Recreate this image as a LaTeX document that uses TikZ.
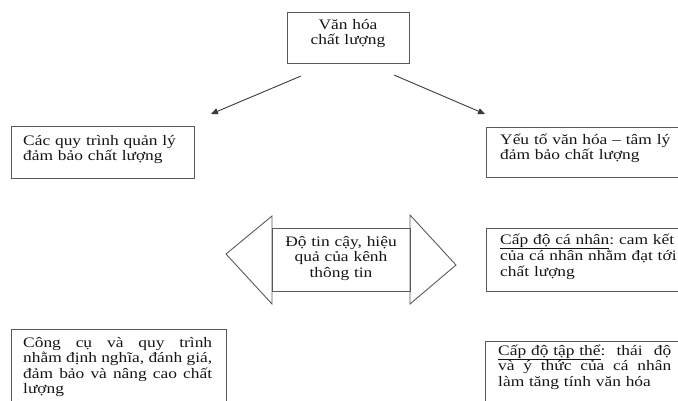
\documentclass[tikz,border=0pt]{standalone}
\usepackage{fontspec}
\setmainfont{Liberation Serif}[FakeStretch=1.2]
\usetikzlibrary{arrows.meta}
\definecolor{edge}{HTML}{5A5A5A}
\definecolor{lin}{HTML}{3A3A3A}
\definecolor{ink}{HTML}{151515}
\newcommand{\myjust}[2]{\leavevmode\hbox to #1{#2}}
\newcommand{\jsp}{\hskip 0.2em plus 1fill\relax}
\frenchspacing
\tikzset{
  boxshape/.style={draw=edge, line width=0.9pt, rectangle, inner sep=0pt},
  txt/.style={inner sep=0pt, text=ink, font=\fontsize{14.5}{15.5}\selectfont\frenchspacing},
  lefttxt/.style={txt, anchor=base west, align=left, text width=210pt},
  ctrtxt/.style={txt, anchor=base, align=center, text width=130pt},
  conn/.style={draw=lin, line width=0.9pt, -{Triangle[length=7pt,width=6pt]}},
}
\begin{document}
\begin{tikzpicture}[x=1pt,y=-1pt]
\useasboundingbox (0,0) rectangle (678,400);
% boxes
\node[boxshape, minimum width=122pt, minimum height=51pt] (top) at (348,37.5) {};
\node[boxshape, minimum width=183pt, minimum height=52pt] (l1) at (102.5,152) {};
\node[boxshape, minimum width=204pt, minimum height=50pt] (r1) at (588,152) {};
\node[boxshape, minimum width=204pt, minimum height=63pt] (r2) at (588,259.5) {};
\node[boxshape, minimum width=215pt, minimum height=81pt] (bl) at (118.5,369.5) {};
\node[boxshape, minimum width=205pt, minimum height=69pt] (br) at (587.5,375.5) {};
% double arrow
\node[boxshape, minimum width=138pt, minimum height=63pt] (dbl) at (341,259.5) {};
\coordinate (lt) at (226,254);
\coordinate (lha) at (272,216);
\coordinate (lhb) at (272,304);
\coordinate (rt) at (456,265);
\coordinate (rha) at (410,215);
\coordinate (rhb) at (410,304);
\draw[draw=edge, line width=0.9pt, line join=miter] (lha) -- (lt) -- (lhb) -- cycle;
\draw[draw=edge, line width=0.9pt, line join=miter] (rha) -- (rt) -- (rhb) -- cycle;
% texts
\node[ctrtxt] (toptxt) at (348,29) {Văn hóa\\chất lượng};
\node[lefttxt] (l1txt) at (23,145) {Các quy trình quản lý\\đảm bảo chất lượng};
\node[lefttxt] (r1txt) at (500,144) {Yếu tố văn hóa – tâm lý\\đảm bảo chất lượng};
\node[ctrtxt] (dbltxt) at (341,246) {Độ tin cậy, hiệu\\quả của kênh\\thông tin};
\node[lefttxt] (r2txt) at (500,244) {\underline{Cấp độ cá nhân}: cam kết\\của cá nhân nhằm đạt tới\\chất lượng};
\node[lefttxt] (bltxt) at (23,347) {\myjust{189pt}{Công\jsp cụ\jsp và\jsp quy\jsp trình}\\\myjust{189pt}{nhằm\jsp định\jsp nghĩa,\jsp đánh\jsp giá,}\\\myjust{189pt}{đảm\jsp bảo\jsp và\jsp nâng\jsp cao\jsp chất}\\lượng};
\node[lefttxt] (brtxt) at (498,355) {\myjust{173pt}{\underline{Cấp độ tập thể}:\jsp thái\jsp độ}\\\myjust{173pt}{và\jsp ý\jsp thức\jsp của\jsp cá\jsp nhân}\\làm tăng tính văn hóa};
% connectors
\coordinate (a1s) at (301,76);
\coordinate (a1e) at (211,114);
\coordinate (a2s) at (394,75);
\coordinate (a2e) at (485,114);
\draw[conn] (a1s) -- (a1e);
\draw[conn] (a2s) -- (a2e);
\end{tikzpicture}
\end{document}
